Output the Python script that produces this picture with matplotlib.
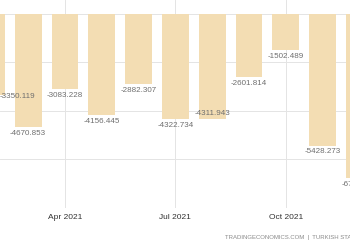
"""Turkey balance of trade 2021 - monthly bars."""
import numpy as np
import matplotlib
matplotlib.use("Agg")
import matplotlib.pyplot as plt

# month index (0 = Jan 2021) and balance in USD million
months = [1, 2, 3, 4, 5, 6, 7, 8, 9, 10, 11]
balance = [-3350.119, -4670.853, -3083.228, -4156.445, -2882.307, -4322.734,
           -4311.943, -2601.814, -1502.489, -5428.273, -6780.0]
tick_pos = [3, 6, 9]
tick_labels = ["Apr 2021", "Jul 2021", "Oct 2021"]

bar_color = "#F3DDB3"
grid_color = "#E4E4E4"
label_kw = dict(fontsize=5.8, color="#6E6E6E", family="Liberation Sans",
                zorder=3, annotation_clip=False, textcoords="offset points")

fig = plt.figure(figsize=(3.5, 2.5), dpi=100)
ax = fig.add_axes([0, 1 - 208 / 250, 1, 208 / 250])

ax.bar(months, balance, width=0.73, color=bar_color, zorder=2)
ax.set_xlim(1.234, 10.745)
ax.set_ylim(-8000, 577)

ax.set_yticks([0, -2000, -4000, -6000, -8000])
ax.set_xticks(tick_pos)
ax.set_xticklabels(tick_labels, fontsize=6, color="#333333", family="Liberation Sans")
ax.tick_params(axis="x", length=0, pad=4)
ax.tick_params(axis="y", length=0, labelleft=False)
ax.grid(True, color=grid_color, linewidth=0.7, zorder=0)
for s in ax.spines.values():
    s.set_visible(False)

# value labels under each bar
x0 = ax.get_xlim()[0]
for i, (m, v) in enumerate(zip(months, balance)):
    txt = f"{v:.3f}"
    if i == 0:
        ax.annotate(txt, (x0, v), xytext=(0, -1), ha="left", va="center", **label_kw)
    elif i == 6:
        ax.annotate(txt, (m, v), xytext=(0, 4), ha="center", va="center", **label_kw)
    else:
        ax.annotate(txt, (m, v), xytext=(0, -2), ha="center", va="top", **label_kw)

fig.text(225 / 350, 0.048, "TRADINGECONOMICS.COM  |  TURKISH STATISTICAL INSTITUTE",
         fontsize=4.3, color="#8A8A8A", ha="left", va="center",
         family="Liberation Sans")

plt.savefig("out.png", dpi=100)
plt.close()
